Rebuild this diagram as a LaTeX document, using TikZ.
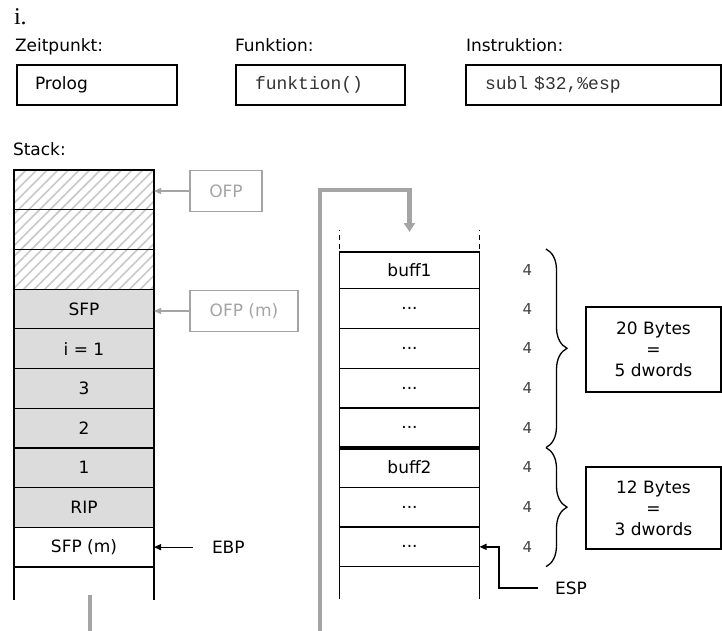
\documentclass[tikz,border=0pt]{standalone}
\usepackage{fontspec}
\setmainfont{DejaVu Sans}
\newfontfamily\codefont{Liberation Mono}
\newfontfamily\headfont{Liberation Serif}
\usepackage{xcolor}
\usepackage{tikz}
\usetikzlibrary{positioning, arrows.meta, patterns.meta, decorations.pathreplacing}
\definecolor{cellgray}{HTML}{DCDCDC}
\definecolor{linegray}{HTML}{A4A4A4}
\definecolor{hatchgray}{HTML}{C8C8C8}
\definecolor{numgray}{HTML}{404040}
\definecolor{codegray}{HTML}{333333}

\begin{document}
\begin{tikzpicture}[x=1pt, y=-1pt,
    every node/.style={font=\fontsize{17}{21}\selectfont, inner sep=0pt, outer sep=0pt},
    lbl/.style={anchor=base west},
    infobox/.style={draw, line width=1.3pt, anchor=north west, minimum height=40pt, inner xsep=18pt, align=left},
    codebox/.style={infobox, inner xsep=19pt, font=\codefont\fontsize{18}{22}\selectfont, text=codegray},
    cell/.style={draw, line width=1.2pt, minimum width=140pt, minimum height=39.7pt},
    hatched/.style={cell, pattern={Lines[angle=45, distance=7.5pt, line width=1.6pt]}, pattern color=hatchgray},
    filled/.style={cell, fill=cellgray},
    ptrbox/.style={draw=linegray, text=linegray, line width=1.2pt, minimum height=41pt},
    bytebox/.style={draw, line width=1.2pt, minimum width=135pt, align=center},
    num/.style={font=\fontsize{15}{18}\selectfont, text=numgray, anchor=west},
    grayarr/.style={draw=linegray, line width=1.4pt, -{Triangle[length=7pt, width=6pt]}},
    blkarr/.style={line width=1.3pt, -{Triangle[length=7pt, width=6pt]}},
    flow/.style={draw=linegray, line width=4.5pt},
    brace/.style={decorate, decoration={brace, amplitude=21pt}, line width=1.3pt}
]
\useasboundingbox (0,0) rectangle (722,631);

\node[lbl, font=\headfont\fontsize{24}{28}\selectfont] (part) at (14,25) {i.};
\node[lbl] (zeitlbl) at (15,52) {Zeitpunkt:};
\node[lbl] (funklbl) at (235,52) {Funktion:};
\node[lbl] (instrlbl) at (466,52) {Instruktion:};
\node[infobox, text width=124pt] (zeit) at (17,65) {Prolog};
\node[codebox, text width=131pt] (funk) at (236,65) {funktion()};
\node[codebox, text width=217pt] (instr) at (466,65) {subl \$32,\%esp};

\node[lbl] (stacklbl) at (13,156) {Stack:};

\node[hatched] (h1) at (84,189.85) {};
\node[hatched, below=0pt of h1] (h2) {};
\node[hatched, below=0pt of h2] (h3) {};
\node[filled, below=0pt of h3] (sfp) {SFP};
\node[filled, below=0pt of sfp] (var) {i = 1};
\node[filled, below=0pt of var] (arg3) {3};
\node[filled, below=0pt of arg3] (arg2) {2};
\node[filled, below=0pt of arg2] (arg1) {1};
\node[filled, below=0pt of arg1] (rip) {RIP};
\node[cell, below=0pt of rip] (sfpm) {SFP (m)};
\draw[line width=1.2pt] (sfpm.south west) -- ++(0,33);
\draw[line width=1.2pt] (sfpm.south east) -- ++(0,33);

\node[ptrbox, minimum width=72pt] (ofp) at (226,191) {OFP};
\node[ptrbox, minimum width=108pt] (ofpm) at (244,311) {OFP (m)};
\draw[grayarr] (ofp.west) -- (ofp.west -| h1.east);
\draw[grayarr] (ofpm.west) -- (ofpm.west -| sfp.east);

\node[anchor=west, right=58pt of sfpm] (ebp) {EBP};
\draw[blkarr] ([xshift=-19pt]ebp.west) -- (sfpm.east);

\node[cell, minimum height=36.8pt, anchor=north] (r1) at (409.5,252) {buff1};
\node[cell, below=0pt of r1] (r2) {...};
\node[cell, below=0pt of r2] (r3) {...};
\node[cell, below=0pt of r3] (r4) {...};
\node[cell, below=0pt of r4] (r5) {...};
\node[cell, below=0pt of r5] (r6) {buff2};
\node[cell, below=0pt of r6] (r7) {...};
\node[cell, below=0pt of r7] (r8) {...};
\draw[line width=4pt] (r5.south west) -- (r5.south east);
\draw[line width=1.2pt, dash pattern=on 5pt off 4pt] (r1.north west) ++(0,-3) -- ++(0,-19);
\draw[line width=1.2pt, dash pattern=on 5pt off 4pt] (r1.north east) ++(0,-3) -- ++(0,-19);
\draw[line width=1.2pt] (r8.south west) -- ++(0,32);
\draw[line width=1.2pt] (r8.south east) -- ++(0,32);

\foreach \i in {1,...,8}
    \node[num, right=43pt of r\i] (n\i) {4};

\coordinate (bracex) at (546,0);
\draw[brace] (bracex |- r1.north) ++(0,-3) -- (bracex |- r5.south);
\draw[brace] (bracex |- r6.north) -- (bracex |- r8.south);

\node[bytebox, minimum height=85pt] (bytes20) at (653.5,349.5) {20 Bytes\\=\\5 dwords};
\node[bytebox, minimum height=82pt] (bytes12) at (653.5,508) {12 Bytes\\=\\3 dwords};

\node[anchor=west] (esp) at (555,588) {ESP};
\draw[blkarr] ([xshift=-17pt]esp.west) -- ++(-39,0) |- (r8.east);

\coordinate (flowbot) at (320,631);
\coordinate (flowtop) at (320,190);
\coordinate (flowend) at (409.5,232);
\draw[flow, -{Triangle[length=9pt, width=11pt]}] (flowbot) -- (flowtop) -| (flowend);
\draw[flow] (90,595) -- (90,631);
\end{tikzpicture}
\end{document}
